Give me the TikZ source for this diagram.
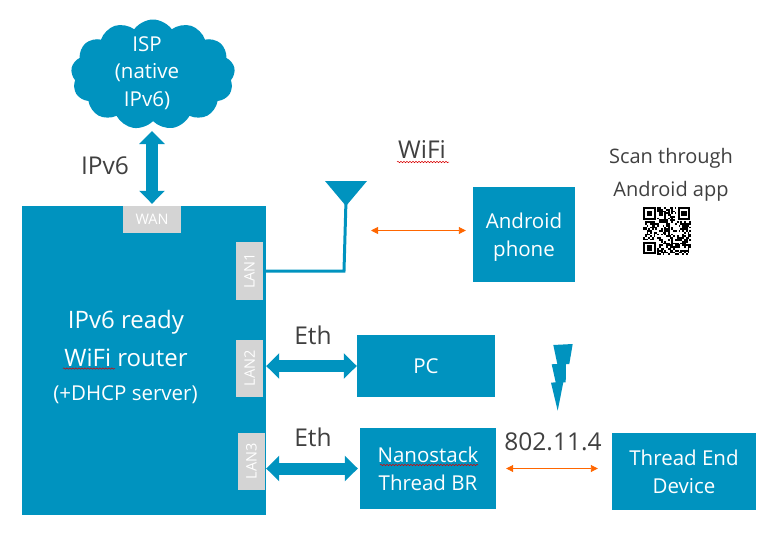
\documentclass[tikz,border=0pt]{standalone}
\usepackage{fontspec}
\setmainfont{Open Sans}
\usepackage{xcolor}
\usetikzlibrary{arrows.meta,shapes.symbols,decorations.pathmorphing}
\definecolor{boxblue}{HTML}{0093BF}
\definecolor{portgray}{HTML}{D4D4D4}
\definecolor{labelgray}{HTML}{404040}
\definecolor{radioorange}{HTML}{FF6600}
\tikzset{
  bluebox/.style={rectangle,fill=boxblue,text=white,font=\fontsize{20.5}{28}\selectfont,align=center,inner sep=0pt},
  port/.style={rectangle,fill=portgray,text=white,font=\fontsize{14.5}{16}\selectfont,inner sep=0pt},
  caption/.style={text=labelgray,font=\fontsize{24.5}{33}\selectfont,align=center,inner sep=0pt},
  routerline/.style={text=white,font=\fontsize{24}{28}\selectfont,inner sep=0pt},
  link/.style={boxblue,line width=12pt,{Triangle[width=25pt,length=13pt]}-{Triangle[width=25pt,length=13pt]}},
  radio/.style={radioorange,line width=0.9pt,{Triangle[width=7pt,length=7pt]}-{Triangle[width=7pt,length=7pt]}},
  wire/.style={boxblue,line width=3pt,line join=miter},
  squiggle/.style={red!85!black,line width=0.5pt,decorate,decoration={snake,amplitude=0.7pt,segment length=3pt}}
}
\begin{document}
\begin{tikzpicture}[x=1pt,y=-1pt]
	\useasboundingbox (0,0) rectangle (780,544);
	% boxes
	\node(router) at (144,360.5)[bluebox,minimum width=244pt,minimum height=309pt]{};
	\node(wan) at (152,219.5)[port,minimum width=58pt,minimum height=27pt]{WAN};
	\node(lan1) at (249.5,271)[port,minimum width=27pt,minimum height=58pt]{\rotatebox{90}{LAN1}};
	\node(lan2) at (249.5,368.5)[port,minimum width=27pt,minimum height=57pt]{\rotatebox{90}{LAN2}};
	\node(lan3) at (251.5,461.5)[port,minimum width=27pt,minimum height=57pt]{\rotatebox{90}{LAN3}};
	\node(phone) at (524,234.5)[bluebox,minimum width=102pt,minimum height=95pt,text depth=0pt]{Android\\phone};
	\node(pc) at (426,366)[bluebox,minimum width=138pt,minimum height=62pt]{PC};
	\node(nano) at (428,468.5)[bluebox,minimum width=136pt,minimum height=81pt,text depth=-2pt]{Nanostack\\Thread BR};
	\node(device) at (684,471.5)[bluebox,minimum width=144pt,minimum height=77pt,text depth=-3pt]{Thread End\\Device};
	\node(isp) at (153,74.5)[cloud,cloud puffs=13,cloud puff arc=110,aspect=1.5,fill=boxblue,inner sep=0pt,minimum width=164pt,minimum height=110pt]{};
	\node(isptext) at (147,73)[text=white,font=\fontsize{20.5}{27.5}\selectfont,align=center,inner sep=0pt]{ISP\\(native\\IPv6)};
	% router text
	\node(ready) at (126,322)[routerline]{IPv6 ready};
	\node(wifirouter) at (126,358)[routerline]{WiFi router};
	\node(dhcp) at (125.5,395)[routerline,font=\fontsize{20.5}{24}\selectfont]{(+DHCP server)};
	% labels
	\node(ipv6) at (105,166)[caption]{IPv6};
	\node(wifi) at (422,150)[caption]{WiFi};
	\node(scan) at (671,175)[caption,font=\fontsize{20}{33}\selectfont]{Scan through\\Android app};
	\node(eth1) at (313,335)[caption]{Eth};
	\node(eth2) at (313,437)[caption]{Eth};
	\node(thread) at (553,442)[caption]{802.11.4};
	% links
	\coordinate(isptip) at (152,131);
	\draw[link,shorten >=2pt] (isptip) -- (wan.north);
	\draw[link] (pc.west -| router.east) -- (pc.west);
	\draw[link,shorten >=2pt] (nano.west -| router.east) -- (nano.west);
	\coordinate(radiostart) at (357,230.5);
	\draw[radio,shorten >=7pt,shorten <=14pt] (radiostart) -- (radiostart -| phone.west);
	\draw[radio,shorten <=10pt,shorten >=14pt] (nano.east) -- (device.west |- nano.east);
	% antenna
	\coordinate(mastfoot) at (344,271);
	\coordinate(masttop) at (346,200);
	\draw[wire] (lan1 -| router.east) -- (mastfoot) -- (masttop);
	\fill[boxblue] (325,181) -- (367,181) -- (346,206) -- cycle;
	% lightning
	\fill[boxblue] (553.3,345) -- (572.7,344) -- (569.3,364) -- (566,364) -- (565.7,382.3) -- (563.3,382.3) -- (557.7,410.7) -- (551,382.7) -- (555.7,382.3) -- (551.7,364.3) -- (557.3,364) -- cycle;
	% spell check marks
	\draw[squiggle] (397,162) -- (449,162);
	\draw[squiggle] (63,368.5) -- (115,368.5);
	\draw[squiggle] (380,465) -- (478,465);
	% qr code
	\pgfmathsetseed{42}
	\foreach \i in {0,...,26}
		\foreach \j in {0,...,26}{
			\pgfmathparse{rnd<0.5 ? 1 : 0}
			\ifnum\pgfmathresult=1
				\fill[black] (643+1.78*\i,207+1.78*\j) rectangle ++(1.78,1.78);
			\fi
		}
	\foreach \x/\y in {643/207,677.7/207,643/241.7}{
		\fill[white] (\x-1.8,\y-1.8) rectangle ++(16.1,16.1);
		\fill[black] (\x,\y) rectangle ++(12.5,12.5);
		\fill[white] (\x+1.8,\y+1.8) rectangle ++(8.9,8.9);
		\fill[black] (\x+3.6,\y+3.6) rectangle ++(5.3,5.3);
	}
\end{tikzpicture}
\end{document}
